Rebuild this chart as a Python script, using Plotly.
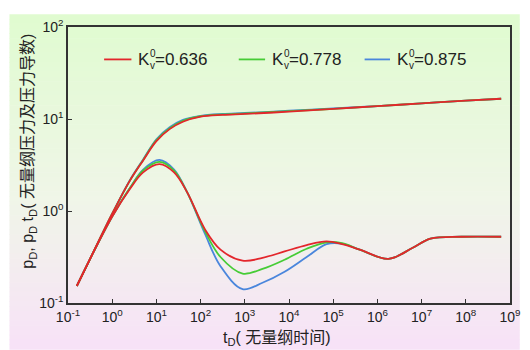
import numpy as np
import plotly.graph_objects as go

# ---- data (log10 values) ----
t_p_exp = [-0.8, -0.5, 0.0, 0.4, 0.7, 1.0, 1.3, 1.6, 2.0, 2.5, 3.0, 4.0, 5.0, 6.0, 7.0, 8.0, 8.8]
pD_exp_red   = [-0.815, -0.52, -0.03, 0.33, 0.55, 0.76, 0.89, 0.97, 1.025, 1.045, 1.055, 1.08, 1.11, 1.14, 1.17, 1.20, 1.22]
pD_exp_green = [-0.815, -0.52, -0.03, 0.33, 0.555, 0.77, 0.90, 0.98, 1.03, 1.05, 1.06, 1.085, 1.11, 1.14, 1.17, 1.20, 1.22]
pD_exp_blue  = [-0.815, -0.52, -0.03, 0.335, 0.56, 0.78, 0.91, 0.99, 1.035, 1.055, 1.065, 1.09, 1.115, 1.14, 1.17, 1.20, 1.22]

t_d_exp = [-0.8, -0.5, 0.0, 0.4, 0.7, 1.07, 1.4, 1.7, 2.1, 2.45, 2.95, 3.4, 3.9, 4.4, 4.85, 5.2, 5.6, 6.25, 6.8, 7.2, 7.9, 8.8]
dD_exp_red   = [-0.815, -0.52, -0.06, 0.24, 0.42, 0.51, 0.42, 0.20, -0.20, -0.42, -0.54, -0.51, -0.44, -0.37, -0.33, -0.36, -0.42, -0.52, -0.40, -0.30, -0.28, -0.28]
dD_exp_green = [-0.815, -0.52, -0.06, 0.25, 0.44, 0.535, 0.44, 0.20, -0.22, -0.50, -0.68, -0.63, -0.53, -0.41, -0.34, -0.35, -0.42, -0.52, -0.40, -0.30, -0.28, -0.28]
dD_exp_blue  = [-0.815, -0.52, -0.06, 0.25, 0.45, 0.555, 0.45, 0.20, -0.25, -0.60, -0.85, -0.78, -0.66, -0.50, -0.36, -0.355, -0.42, -0.52, -0.40, -0.30, -0.28, -0.28]

colors = {"0.636": "#e3262c", "0.778": "#46cc36", "0.875": "#4a86dc"}

x_tick_exp = list(range(-1, 10))
y_tick_exp = [-1, 0, 1, 2]

# ---- geometry helpers (page pixel -> paper); page has an 8px body margin ----
OFF = 8
W, H = 530 - OFF, 350 - OFF
L, R, T, B = 68 - OFF, 521 - OFF, 22 - OFF, 303 - OFF
def px(x):
    return (x - OFF - L) / (R - L)
def py(y):
    return (B - (y - OFF)) / (B - T)

fig = go.Figure()

p_sets = {"0.875": pD_exp_blue, "0.778": pD_exp_green, "0.636": pD_exp_red}
d_sets = {"0.875": dD_exp_blue, "0.778": dD_exp_green, "0.636": dD_exp_red}
for name in ["0.875", "0.778", "0.636"]:
    fig.add_trace(go.Scatter(x=np.power(10.0, t_p_exp), y=np.power(10.0, p_sets[name]),
                             mode="lines", line=dict(color=colors[name], width=1.8, shape="spline", smoothing=1.0),
                             showlegend=False, hoverinfo="skip"))
    fig.add_trace(go.Scatter(x=np.power(10.0, t_d_exp), y=np.power(10.0, d_sets[name]),
                             mode="lines", line=dict(color=colors[name], width=1.8, shape="spline", smoothing=1.0),
                             showlegend=False, hoverinfo="skip"))

# ---- gradient background ----
shapes = []
top_c = np.array([224, 252, 208])
mid_c = np.array([240, 246, 232])
bot_c = np.array([248, 226, 248])
y0, y1 = 9, 350
n = 70
for i in range(n):
    ya = y0 + (y1 - y0) * i / n
    yb = y0 + (y1 - y0) * (i + 1) / n
    f = (i + 0.5) / n
    if f < 0.55:
        c = top_c + (mid_c - top_c) * (f / 0.55)
    else:
        c = mid_c + (bot_c - mid_c) * ((f - 0.55) / 0.45)
    shapes.append(dict(type="rect", xref="paper", yref="paper", layer="below",
                       x0=px(OFF), x1=px(531), y0=py(yb + 0.6), y1=py(ya),
                       line=dict(width=0), fillcolor="rgb(%d,%d,%d)" % tuple(int(v) for v in c)))

# ---- manual legend ----
annotations = []
FONT = "Liberation Sans, Arial, sans-serif"
leg = [("0.636", 105, 133, 138), ("0.778", 243, 270, 275), ("0.875", 372, 398, 403)]
ly = 55
for name, xa, xb, xt in leg:
    shapes.append(dict(type="line", xref="paper", yref="paper", x0=px(xa), x1=px(xb), y0=py(ly), y1=py(ly),
                       line=dict(color=colors[name], width=1.8)))
    annotations.append(dict(xref="paper", yref="paper", x=px(xt), y=py(ly), text="K", showarrow=False,
                            xanchor="left", yanchor="middle", font=dict(family=FONT, size=17, color="#222")))
    annotations.append(dict(xref="paper", yref="paper", x=px(xt + 12.5), y=py(ly - 6), text="0", showarrow=False,
                            xanchor="left", yanchor="middle", font=dict(family=FONT, size=10, color="#222")))
    annotations.append(dict(xref="paper", yref="paper", x=px(xt + 12.5), y=py(ly + 6), text="v", showarrow=False,
                            xanchor="left", yanchor="middle", font=dict(family=FONT, size=10, color="#222")))
    annotations.append(dict(xref="paper", yref="paper", x=px(xt + 17.5), y=py(ly), text="=" + name, showarrow=False,
                            xanchor="left", yanchor="middle", font=dict(family=FONT, size=17, color="#222")))

# axis titles
annotations.append(dict(xref="paper", yref="paper", x=px(282), y=py(339), text="t<sub>D</sub>( 无量纲时间)",
                        showarrow=False, xanchor="center", yanchor="middle",
                        font=dict(family="Liberation Sans, Noto Sans CJK SC", size=16, color="#222")))
annotations.append(dict(xref="paper", yref="paper", x=px(28), y=py(148),
                        text="p<sub>D</sub>, p<sub>D</sub> t<sub>D</sub>( 无量纲压力及压力导数)",
                        showarrow=False, xanchor="center", yanchor="middle", textangle=-90,
                        font=dict(family="Liberation Sans, Noto Sans CJK SC", size=16, color="#222")))

fig.update_layout(
    width=W, height=H,
    margin=dict(l=L, r=W - R, t=T, b=H - B),
    paper_bgcolor="white", plot_bgcolor="rgba(0,0,0,0)",
    shapes=shapes, annotations=annotations, showlegend=False,
    font=dict(family=FONT, size=14, color="#222"),
)
fig.update_xaxes(type="log", range=[-1, 9], tickvals=[10.0 ** e for e in x_tick_exp],
                 ticktext=["10<sup>%d</sup>" % e for e in x_tick_exp],
                 ticks="inside", ticklen=4, tickwidth=1.3, tickcolor="#333",
                 showline=True, linecolor="#333", linewidth=1.5, mirror=True,
                 showgrid=False, zeroline=False, tickfont=dict(size=14, color="#222"))
fig.update_yaxes(type="log", range=[-1, 2], tickvals=[10.0 ** e for e in y_tick_exp],
                 ticktext=["10<sup>%d</sup>" % e for e in y_tick_exp],
                 ticks="inside", ticklen=4, tickwidth=1.3, tickcolor="#333",
                 showline=True, linecolor="#333", linewidth=1.5, mirror=True,
                 showgrid=False, zeroline=False, tickfont=dict(size=14, color="#222"))

fig.write_html("out.html")
